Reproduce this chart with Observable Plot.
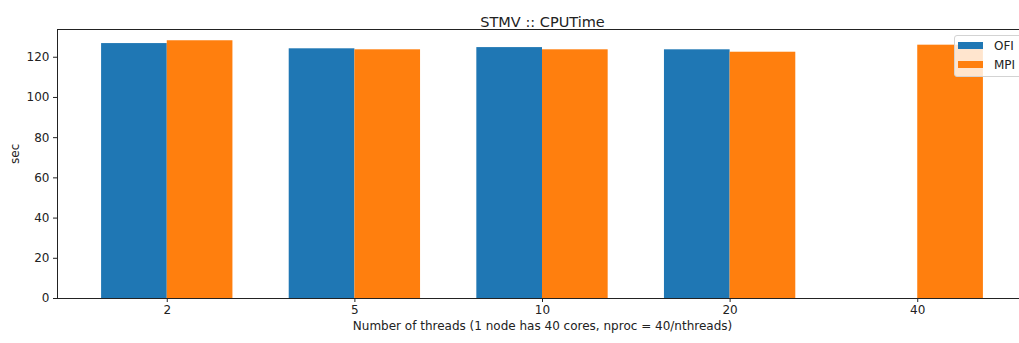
<!DOCTYPE html>
<html><head><meta charset="utf-8">
<script src="https://cdn.jsdelivr.net/npm/d3@7"></script>
<script src="https://cdn.jsdelivr.net/npm/@observablehq/plot@0.6"></script>
<style>
body{margin:0;overflow:hidden;background:#fff;font-family:"DejaVu Sans",sans-serif;}
#wrap{position:relative;width:1019px;height:343px;overflow:hidden;}
#wrap svg{display:block;}
.legend{position:absolute;left:954px;top:35px;width:90px;height:42px;box-sizing:border-box;background:rgba(255,255,255,0.8);border:1px solid #d3d3d3;border-radius:3px;font-size:12px;color:#222;}
.legend .item{position:absolute;left:3px;height:14px;line-height:14px;white-space:nowrap;}
.legend .sw{position:absolute;left:0;top:3px;width:25px;height:7px;}
.legend .lb{position:absolute;left:36px;top:0;}
</style></head><body><div id="wrap"></div>
<script>
const categories = ["2", "5", "10", "20", "40"];
const seriesNames = ["OFI", "MPI"];
const ofiValues = [126.8, 124.2, 124.8, 123.7, null];
const mpiValues = [128.2, 123.7, 123.7, 122.5, 126.0];
const seriesColors = ["#1f77b4", "#ff7f0e"];
const yTicks = [0, 20, 40, 60, 80, 100, 120];
const yMax = 133.8;
const titleText = "STMV :: CPUTime";
const xLabel = "Number of threads (1 node has 40 cores, nproc = 40/nthreads)";
const yLabel = "sec";
const barWidth = 0.35;

const seriesValues = [ofiValues, mpiValues];
const rows = [];
categories.forEach((c, i) => {
  seriesValues.forEach((arr, k) => {
    if (arr[i] != null) rows.push({i, cat: c, series: seriesNames[k], value: arr[i],
      x1: i + (k - 1) * barWidth, x2: i + k * barWidth});
  });
});
const lo = -barWidth, hi = categories.length - 1 + barWidth, pad = 0.05 * (hi - lo);

const chart = Plot.plot({
  width: 1019, height: 343,
  marginLeft: 57, marginRight: -8, marginTop: 29, marginBottom: 45,
  style: {fontFamily: "DejaVu Sans, sans-serif", fontSize: "12px", color: "#222", background: "#fff"},
  x: {type: "linear", domain: [lo - pad, hi + pad], ticks: categories.map((c, i) => i),
      tickFormat: i => categories[i], tickSize: 4, tickPadding: 3, label: null},
  y: {domain: [0, yMax], ticks: yTicks, tickSize: 4, tickPadding: 4, label: null},
  color: {domain: seriesNames, range: seriesColors},
  marks: [
    Plot.rectY(rows, {x1: "x1", x2: "x2", y1: 0, y2: "value", fill: "series"}),
    Plot.frame({stroke: "#222", strokeWidth: 1}),
    Plot.text([titleText], {frameAnchor: "top", dy: -13, fontSize: 14.5, text: d => d}),
    Plot.text([xLabel], {frameAnchor: "bottom", dy: 31, fontSize: 12, text: d => d}),
    Plot.text([yLabel], {frameAnchor: "left", dx: -42, rotate: -90, fontSize: 12, text: d => d})
  ]
});
const wrap = document.getElementById("wrap");
wrap.appendChild(chart);

const legend = document.createElement("div");
legend.className = "legend";
seriesNames.forEach((name, k) => {
  const item = document.createElement("div");
  item.className = "item";
  item.style.top = (3 + k * 19) + "px";
  const sw = document.createElement("div");
  sw.className = "sw";
  sw.style.background = seriesColors[k];
  const lb = document.createElement("div");
  lb.className = "lb";
  lb.textContent = name;
  item.appendChild(sw); item.appendChild(lb);
  legend.appendChild(item);
});
wrap.appendChild(legend);
</script>
</body></html>
